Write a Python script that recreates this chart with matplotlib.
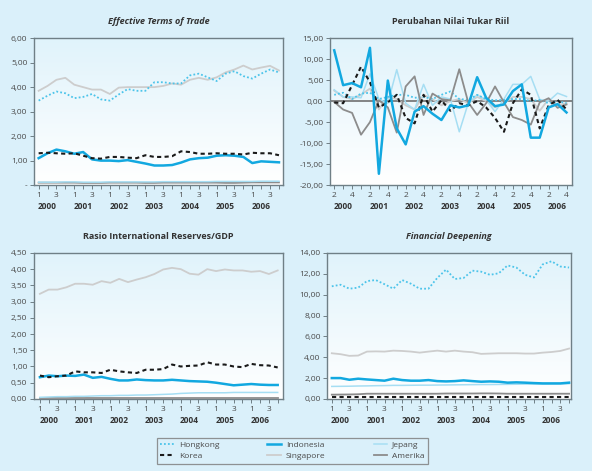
import numpy as np
import matplotlib
matplotlib.use("Agg")
import matplotlib.pyplot as plt
from matplotlib.lines import Line2D

plt.rcParams['font.family'] = ['Open Sans', 'DejaVu Sans']

years = ['2000', '2001', '2002', '2003', '2004', '2005', '2006']

# Effective Terms of Trade, 2000Q1-2006Q4
ett_singapore = [3.85, 4.05, 4.3, 4.38, 4.1, 4.0, 3.9, 3.9, 3.72, 3.98, 4.0, 4.0, 4.0, 4.0,
                 4.05, 4.15, 4.1, 4.3, 4.38, 4.3, 4.4, 4.6, 4.72, 4.88, 4.72, 4.8, 4.87, 4.68]
ett_hongkong = [3.45, 3.65, 3.82, 3.75, 3.55, 3.6, 3.72, 3.5, 3.45, 3.7, 3.92, 3.85, 3.85, 4.2,
                4.2, 4.15, 4.15, 4.48, 4.55, 4.4, 4.25, 4.55, 4.65, 4.45, 4.35, 4.55, 4.72, 4.6]
ett_korea = [1.3, 1.32, 1.3, 1.28, 1.3, 1.2, 1.1, 1.08, 1.15, 1.15, 1.12, 1.1, 1.22, 1.15,
             1.15, 1.18, 1.38, 1.35, 1.28, 1.28, 1.3, 1.28, 1.28, 1.25, 1.32, 1.3, 1.3, 1.22]
ett_indonesia = [1.1, 1.3, 1.45, 1.38, 1.28, 1.35, 1.05, 1.0, 1.0, 0.98, 1.02, 0.95, 0.88, 0.8,
                 0.8, 0.82, 0.92, 1.05, 1.1, 1.12, 1.2, 1.22, 1.2, 1.15, 0.9, 0.97, 0.95, 0.93]
ett_jepang = [0.12, 0.12, 0.12, 0.13, 0.13, 0.12, 0.12, 0.12, 0.13, 0.13, 0.13, 0.13, 0.13, 0.13,
              0.14, 0.14, 0.14, 0.14, 0.14, 0.14, 0.15, 0.15, 0.15, 0.15, 0.15, 0.16, 0.16, 0.16]
ett_amerika = [0.1, 0.1, 0.1, 0.1, 0.1, 0.09, 0.09, 0.09, 0.1, 0.1, 0.1, 0.1, 0.09, 0.09,
               0.1, 0.1, 0.1, 0.1, 0.1, 0.1, 0.1, 0.09, 0.09, 0.1, 0.11, 0.11, 0.11, 0.11]

# Perubahan Nilai Tukar Riil, 2000Q2-2006Q4
rer_indonesia = [12.1, 3.8, 4.3, 3.3, 12.7, -17.3, 4.9, -6.5, -10.3, -2.5, -1.2, -3.0, -4.5, -1.0,
                 -1.5, -1.0, 5.7, 0.8, -1.2, -0.8, 2.4, 4.0, -8.7, -8.7, -1.5, -0.7, -2.7]
rer_korea = [-0.3, -0.5, 3.8, 8.2, 4.5, -1.5, -0.3, 1.5, -4.0, -5.3, 1.5, -2.5, 0.2, -2.3,
             -0.5, -1.0, 0.0, -1.5, -4.0, -7.3, -0.5, 2.8, 1.5, -6.5, -1.0, 0.3, -2.0]
rer_amerika = [-0.2, -2.0, -2.8, -8.0, -5.0, 0.2, -1.5, -7.5, 3.5, 5.9, -3.3, 1.8, 0.5, 0.2,
               7.6, -0.3, -3.3, -0.5, 3.5, -0.3, -3.8, -4.5, -5.6, -0.3, 0.7, -1.6, -0.8]
rer_jepang = [2.7, 1.0, 1.0, 0.8, 6.5, 0.5, -0.5, 7.5, -0.5, -2.0, 4.0, -1.0, 1.0, 0.5,
              -7.3, -0.5, 1.5, 0.3, -2.5, 0.5, 4.0, 4.0, 5.9, 0.4, 0.0, 1.9, 1.1]
rer_singapore = [2.5, 1.0, 0.5, 1.5, 3.0, -2.0, 1.0, 0.5, -1.0, -2.0, 1.5, 0.5, -1.0, 0.0,
                 0.5, -0.5, 1.0, 0.0, -1.5, -0.5, 1.0, 1.0, 0.5, -2.3, 0.5, -1.0, -0.5]
rer_hongkong = [1.5, 2.0, 0.5, 1.8, 2.0, 0.5, 1.0, 1.5, 1.5, 0.8, 1.0, 0.5, 1.5, 2.3,
                0.5, 0.3, 1.5, 0.5, 0.2, 0.3, 0.5, 0.5, 0.0, 0.3, -0.5, 0.0, -0.5]

# Rasio International Reserves/GDP, 2000Q1-2006Q4
res_singapore = [3.24, 3.37, 3.37, 3.44, 3.55, 3.55, 3.52, 3.63, 3.58, 3.7, 3.6, 3.68, 3.75, 3.85,
                 3.99, 4.04, 4.0, 3.86, 3.83, 4.0, 3.94, 3.99, 3.96, 3.96, 3.92, 3.94, 3.85, 3.96]
res_korea = [0.72, 0.67, 0.7, 0.72, 0.85, 0.82, 0.82, 0.8, 0.9, 0.85, 0.82, 0.8, 0.9, 0.9,
             0.92, 1.06, 1.0, 1.02, 1.03, 1.13, 1.06, 1.06, 1.0, 0.98, 1.08, 1.04, 1.03, 0.97]
res_indonesia = [0.67, 0.72, 0.7, 0.72, 0.71, 0.75, 0.65, 0.68, 0.62, 0.57, 0.57, 0.6, 0.58, 0.57,
                 0.57, 0.59, 0.57, 0.55, 0.54, 0.53, 0.5, 0.46, 0.42, 0.44, 0.46, 0.44, 0.43, 0.43]
res_jepang = [0.05, 0.06, 0.07, 0.07, 0.08, 0.08, 0.09, 0.1, 0.1, 0.11, 0.11, 0.12, 0.12, 0.13,
              0.14, 0.15, 0.17, 0.18, 0.19, 0.19, 0.19, 0.19, 0.2, 0.2, 0.2, 0.2, 0.2, 0.2]
res_amerika = [0.02, 0.02, 0.02, 0.02, 0.02, 0.02, 0.02, 0.02, 0.02, 0.02, 0.02, 0.02, 0.02, 0.02,
               0.02, 0.02, 0.02, 0.02, 0.02, 0.02, 0.02, 0.02, 0.02, 0.02, 0.02, 0.02, 0.02, 0.02]

# Financial Deepening, 2000Q1-2006Q4
fd_hongkong = [10.8, 10.95, 10.57, 10.67, 11.3, 11.4, 11.0, 10.57, 11.4, 11.05, 10.57, 10.57, 11.6, 12.4,
               11.5, 11.6, 12.3, 12.2, 11.9, 12.05, 12.8, 12.6, 11.9, 11.65, 12.9, 13.2, 12.7, 12.6]
fd_singapore = [4.38, 4.29, 4.13, 4.16, 4.54, 4.56, 4.54, 4.63, 4.6, 4.54, 4.44, 4.54, 4.63, 4.54,
                4.63, 4.54, 4.48, 4.32, 4.35, 4.38, 4.38, 4.38, 4.35, 4.35, 4.44, 4.5, 4.6, 4.83]
fd_indonesia = [2.0, 2.0, 1.84, 1.94, 1.87, 1.81, 1.75, 1.94, 1.81, 1.75, 1.75, 1.81, 1.71, 1.68,
                1.71, 1.78, 1.71, 1.65, 1.68, 1.65, 1.56, 1.59, 1.56, 1.52, 1.49, 1.49, 1.49, 1.56]
fd_jepang = [1.2, 1.21, 1.22, 1.24, 1.25, 1.27, 1.28, 1.3, 1.3, 1.31, 1.32, 1.32, 1.33, 1.34,
             1.35, 1.36, 1.37, 1.38, 1.38, 1.39, 1.4, 1.41, 1.42, 1.43, 1.43, 1.44, 1.45, 1.46]
fd_amerika = [0.41, 0.42, 0.43, 0.45, 0.5, 0.5, 0.5, 0.5, 0.5, 0.5, 0.5, 0.5, 0.5, 0.52,
              0.52, 0.52, 0.52, 0.53, 0.53, 0.52, 0.5, 0.5, 0.5, 0.5, 0.5, 0.5, 0.5, 0.5]
fd_korea = [0.16, 0.16, 0.16, 0.16, 0.16, 0.16, 0.16, 0.16, 0.16, 0.16, 0.16, 0.16, 0.16, 0.16,
            0.16, 0.16, 0.16, 0.16, 0.16, 0.16, 0.16, 0.16, 0.16, 0.16, 0.16, 0.16, 0.16, 0.16]

STY = {
    'Hongkong': dict(color='#4cc4ea', lw=1.3, ls=(0, (1, 1.2))),
    'Indonesia': dict(color='#12a8e0', lw=1.8, ls='-'),
    'Jepang': dict(color='#a6def3', lw=1.1, ls='-'),
    'Korea': dict(color='#1a1a1a', lw=1.5, ls=(0, (2, 1.6))),
    'Singapore': dict(color='#cdcdcd', lw=1.3, ls='-'),
    'Amerika': dict(color='#8c8c8c', lw=1.3, ls='-'),
}

BG = '#daf0fa'
TXT = '#4a4a4a'
SPINE = '#6f7f86'

fig = plt.figure(figsize=(5.92, 4.71), dpi=100, facecolor=BG)


def fmt(v):
    return ('%.2f' % v).replace('.', ',')


def setup(ax, title, italic, yticks, ylim, xlim, first_q, labels_q, zero_dash=False):
    grad = np.linspace(0, 1, 256).reshape(-1, 1)
    cmap = matplotlib.colors.LinearSegmentedColormap.from_list('g', ['#ffffff', '#e0f3fb'])
    ax.imshow(grad, cmap=cmap, aspect='auto', extent=[0, 1, 0, 1], transform=ax.transAxes,
              origin='lower', zorder=0)
    ax.set_xlim(*xlim)
    ax.set_ylim(*ylim)
    ax.set_yticks(yticks)
    ax.set_yticklabels(['-' if (zero_dash and v == 0) else fmt(v) for v in yticks])
    n = 28 if first_q == 1 else 27
    quarters = [(first_q - 1 + i) % 4 + 1 for i in range(n)]
    major = [i for i in range(n) if quarters[i] in labels_q]
    ax.set_xticks(major)
    ax.set_xticklabels([str(quarters[i]) for i in major])
    ax.set_xticks(range(n), minor=True)
    ax.tick_params(axis='both', which='both', direction='out', length=3, width=0.7,
                   colors=SPINE, labelcolor=TXT, labelsize=6)
    ax.tick_params(axis='x', pad=2)
    ax.tick_params(axis='y', pad=1.5)
    for s in ax.spines.values():
        s.set_color(SPINE)
        s.set_linewidth(1.0)
    for k, y in enumerate(years):
        pos = 4 * k + 1
        ax.text(pos, -0.115, y, transform=ax.get_xaxis_transform(), ha='center', va='top',
                fontsize=6, fontweight='bold', color='#333333')
    ax.set_title(title, fontsize=6.5, fontweight='bold', style='italic' if italic else 'normal',
                 color='#333333', pad=10)


def draw(ax, x, series):
    for name, vals in series:
        ax.plot(x, vals, zorder=3, **STY[name])


x28 = np.arange(28)
x27 = np.arange(27)

ax1 = fig.add_axes([0.057, 0.607, 0.421, 0.312])
setup(ax1, 'Effective Terms of Trade', True, [0, 1, 2, 3, 4, 5, 6], (0, 6), (-0.55, 27.45), 1, (1, 3), zero_dash=True)
draw(ax1, x28, [('Amerika', ett_amerika), ('Jepang', ett_jepang), ('Singapore', ett_singapore),
                ('Hongkong', ett_hongkong), ('Indonesia', ett_indonesia), ('Korea', ett_korea)])

ax2 = fig.add_axes([0.557, 0.607, 0.409, 0.312])
setup(ax2, 'Perubahan Nilai Tukar Riil', False, [-20, -15, -10, -5, 0, 5, 10, 15], (-20, 15), (-0.5, 26.6), 2, (2, 4))
ax2.axhline(0, color='#707070', lw=1.2, zorder=2)
draw(ax2, x27, [('Singapore', rer_singapore), ('Jepang', rer_jepang), ('Hongkong', rer_hongkong),
                ('Amerika', rer_amerika), ('Korea', rer_korea), ('Indonesia', rer_indonesia)])

ax3 = fig.add_axes([0.057, 0.153, 0.421, 0.31])
setup(ax3, 'Rasio International Reserves/GDP', False, list(np.arange(0, 4.51, 0.5)), (0, 4.5), (-0.7, 27.6), 1, (1, 3))
draw(ax3, x28, [('Amerika', res_amerika), ('Jepang', res_jepang), ('Singapore', res_singapore),
                ('Indonesia', res_indonesia), ('Korea', res_korea)])

ax4 = fig.add_axes([0.552, 0.153, 0.413, 0.31])
setup(ax4, 'Financial Deepening', True, [0, 2, 4, 6, 8, 10, 12, 14], (0, 14), (-0.57, 27.25), 1, (1, 3))
draw(ax4, x28, [('Jepang', fd_jepang), ('Singapore', fd_singapore), ('Amerika', fd_amerika),
                ('Hongkong', fd_hongkong), ('Indonesia', fd_indonesia), ('Korea', fd_korea)])

order = ['Hongkong', 'Korea', 'Indonesia', 'Singapore', 'Jepang', 'Amerika']
handles = [Line2D([], [], **STY[n]) for n in order]
leg = fig.legend(handles, order, loc='center', bbox_to_anchor=(0.494, 0.043), ncol=3,
                 fontsize=6, frameon=True, fancybox=False, handlelength=1.6,
                 columnspacing=5.8, handletextpad=0.6, labelspacing=0.35,
                 borderpad=0.45)
leg.get_frame().set_edgecolor('#7a7a7a')
leg.get_frame().set_facecolor(BG)
leg.get_frame().set_linewidth(0.9)
for t in leg.get_texts():
    t.set_color(TXT)

fig.savefig('out.png', dpi=100, facecolor=BG)
